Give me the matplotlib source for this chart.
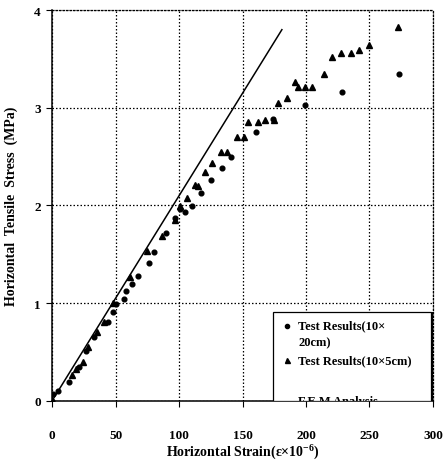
import matplotlib
matplotlib.use("Agg")
import matplotlib.pyplot as plt
from matplotlib.patches import Rectangle


# 10x20cm specimens (circles)
STRAIN_20CM = [0, 1, 5, 13, 21, 27, 33, 44, 48, 50, 57, 58, 63, 68, 76, 80,
               90, 97, 101, 105, 110, 117, 125, 134, 141, 161, 174, 199, 228, 273]
STRESS_20CM = [0, 0.07, 0.10, 0.19, 0.35, 0.51, 0.65, 0.81, 0.91, 0.99, 1.04,
               1.12, 1.20, 1.28, 1.41, 1.52, 1.72, 1.87, 1.96, 1.93, 1.99, 2.13,
               2.26, 2.38, 2.50, 2.75, 2.89, 3.03, 3.16, 3.35]

# 10x5cm specimens (triangles)
STRAIN_5CM = [0, 16, 19, 24, 28.5, 35, 41, 48, 61.5, 75, 86.5, 97, 101, 106,
              112.5, 115, 120.5, 126, 133, 138, 145.5, 151, 154, 162, 168, 175,
              178, 185, 191, 194, 199, 205, 214, 220.5, 227.5, 235.5, 241.5,
              249.5, 272.5]
STRESS_5CM = [0, 0.26, 0.33, 0.40, 0.55, 0.70, 0.81, 1.00, 1.27, 1.53, 1.69,
              1.85, 1.99, 2.08, 2.21, 2.20, 2.34, 2.43, 2.55, 2.55, 2.70, 2.70,
              2.85, 2.85, 2.88, 2.88, 3.05, 3.10, 3.26, 3.21, 3.21, 3.21, 3.35,
              3.52, 3.56, 3.56, 3.59, 3.64, 3.83]

# F.E.M analysis (linear)
STRAIN_FEM = [0, 181]
STRESS_FEM = [0, 3.8]

X_TICKS = [0, 50, 100, 150, 200, 250, 300]
Y_TICKS = [0, 1, 2, 3, 4]

SERIF = ["Liberation Serif", "DejaVu Serif"]


def main():
    plt.rcParams["font.family"] = SERIF
    plt.rcParams["font.weight"] = "bold"

    fig = plt.figure(figsize=(4.45, 4.64), dpi=100)
    ax = fig.add_axes([0.117, 0.134, 0.856, 0.842])

    ax.plot(STRAIN_FEM, STRESS_FEM, color="black", linewidth=1.1, zorder=3)
    ax.plot(STRAIN_20CM, STRESS_20CM, linestyle="none", marker="o",
            markersize=3.4, color="black", zorder=4)
    ax.plot(STRAIN_5CM, STRESS_5CM, linestyle="none", marker="^",
            markersize=4.2, color="black", zorder=4)

    ax.set_xlim(0, 300)
    ax.set_ylim(0, 4)
    ax.set_xticks(X_TICKS)
    ax.set_yticks(Y_TICKS)

    ax.grid(True, color="black", linestyle=(0, (1.2, 1.6)), linewidth=0.9)
    for side in ["top", "right"]:
        ax.spines[side].set_linestyle((0, (1.2, 1.6)))
        ax.spines[side].set_linewidth(0.9)
    for side in ["left", "bottom"]:
        ax.spines[side].set_linewidth(1.1)

    ax.tick_params(axis="x", direction="out", length=4, pad=16, labelsize=9.5)
    ax.tick_params(axis="y", direction="out", length=4, pad=4, labelsize=9.5)
    for lbl in ax.get_xticklabels() + ax.get_yticklabels():
        lbl.set_fontweight("bold")

    ax.set_xlabel(r"Horizontal Strain($\mathregular{\varepsilon}$×10$^{\mathregular{-6}}$)",
                  fontsize=10, fontweight="bold", labelpad=0)
    ax.set_ylabel("Horizontal  Tensile  Stress  (MPa)", fontsize=10,
                  fontweight="bold", labelpad=12)

    # hand-built key box, cut off by the plotting area
    shadow = Rectangle((175, -0.03), 126, 0.94, facecolor="black",
                       edgecolor="none", zorder=5, clip_on=True)
    ax.add_patch(shadow)
    box = Rectangle((174, 0.0), 124.5, 0.91, facecolor="white",
                    edgecolor="black", linewidth=0.9, zorder=6, clip_on=True)
    ax.add_patch(box)

    ax.plot([185], [0.77], marker="o", markersize=3.0, color="black",
            zorder=7, clip_on=True)
    ax.text(194, 0.77, "Test Results(10×", fontsize=9, fontweight="bold",
            va="center", ha="left", zorder=7, clip_on=True)
    ax.text(194, 0.60, "20cm)", fontsize=9, fontweight="bold",
            va="center", ha="left", zorder=7, clip_on=True)
    ax.plot([185], [0.42], marker="^", markersize=3.6, color="black",
            zorder=7, clip_on=True)
    ax.text(194, 0.42, "Test Results(10×5cm)", fontsize=9, fontweight="bold",
            va="center", ha="left", zorder=7, clip_on=True)
    ax.text(194, 0.0, "F.E.M Analysis", fontsize=9, fontweight="bold",
            va="center", ha="left", zorder=7, clip_on=True)

    fig.savefig("out.png", dpi=100)
    plt.close(fig)


if __name__ == "__main__":
    main()
